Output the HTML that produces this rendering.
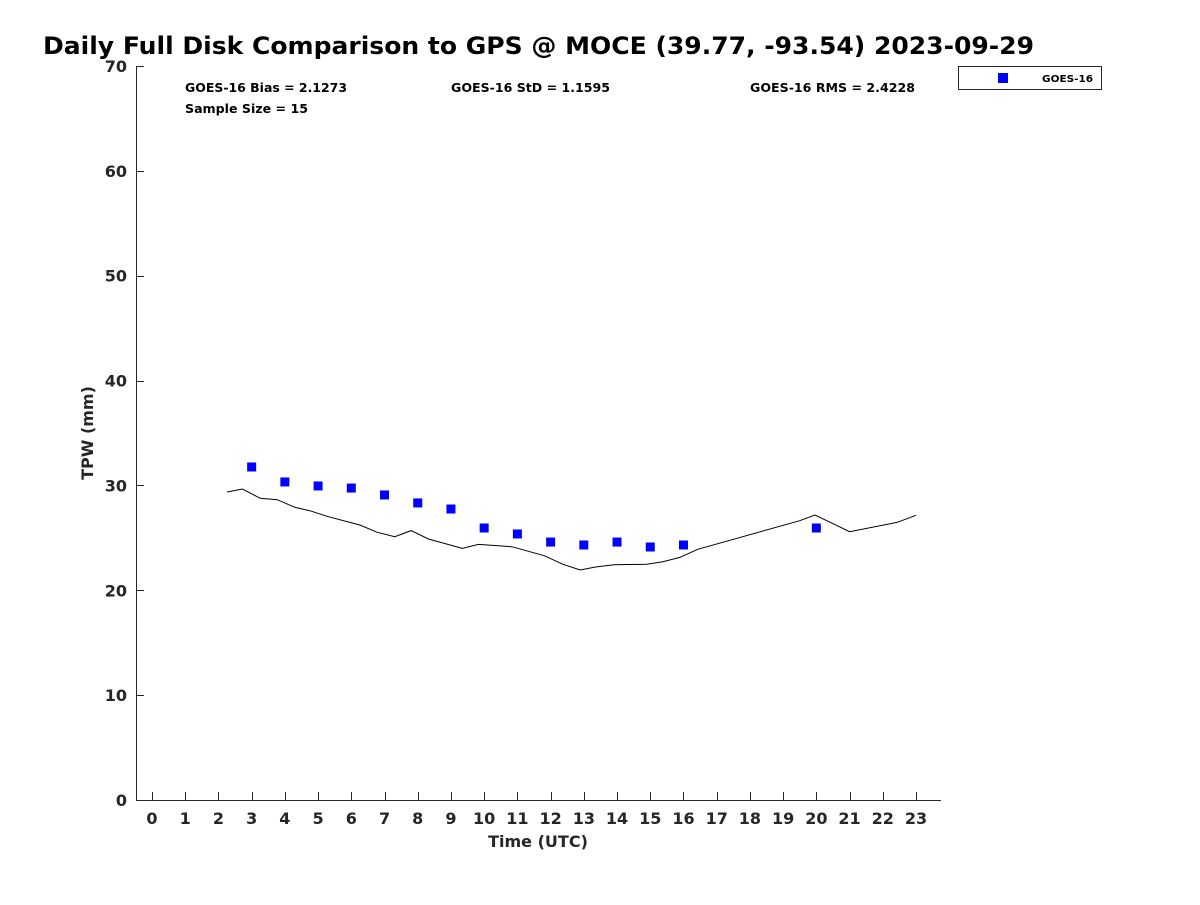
<!DOCTYPE html>
<html><head><meta charset="utf-8"><style>
body{margin:0;background:#fff;}
svg text{font-family:"DejaVu Sans","Liberation Sans",sans-serif;font-weight:bold;fill:#262626;}
</style></head><body>
<svg id="chart" width="1200" height="900">
<text x="43" y="54" font-size="24" textLength="991" lengthAdjust="spacingAndGlyphs" style="fill:#000">Daily Full Disk Comparison to GPS @ MOCE (39.77, -93.54) 2023-09-29</text>
<g id="axes"></g>
<g id="series"></g>
<text x="185" y="92" font-size="12" textLength="162" lengthAdjust="spacingAndGlyphs" style="fill:#000">GOES-16 Bias = 2.1273</text>
<text x="451" y="92" font-size="12" textLength="159" lengthAdjust="spacingAndGlyphs" style="fill:#000">GOES-16 StD = 1.1595</text>
<text x="750" y="92" font-size="12" textLength="165" lengthAdjust="spacingAndGlyphs" style="fill:#000">GOES-16 RMS = 2.4228</text>
<text x="185" y="113" font-size="12" textLength="123" lengthAdjust="spacingAndGlyphs" style="fill:#000">Sample Size = 15</text>
<g>
<rect x="958.5" y="66.5" width="143" height="23" fill="#fff" stroke="#262626" stroke-width="1"/>
<rect x="998" y="73" width="10" height="10" fill="#0000ff"/>
<text x="1042" y="82" font-size="10" textLength="51" lengthAdjust="spacingAndGlyphs" style="fill:#000">GOES-16</text>
</g>
<text transform="translate(93,433) rotate(-90)" font-size="16" text-anchor="middle">TPW (mm)</text>
<text x="538" y="847" font-size="16" text-anchor="middle">Time (UTC)</text>
</svg>
<script>
const gpsHours=[2.26,2.72,3.26,3.77,4.30,4.75,5.31,6.26,6.78,7.31,7.80,8.32,9.34,9.83,10.83,11.81,12.37,12.89,13.35,13.91,14.89,15.38,15.89,16.43,19.50,19.96,20.48,21.00,22.44,23.0];
const gpsValues=[29.37,29.66,28.77,28.64,27.91,27.59,27.02,26.23,25.53,25.11,25.69,24.89,24.00,24.38,24.16,23.30,22.48,21.93,22.22,22.44,22.48,22.73,23.14,23.91,26.64,27.18,26.39,25.59,26.48,27.15];
const goesHours=[3,4,5,6,7,8,9,10,11,12,13,14,15,16,20];
const goesValues=[31.76,30.33,29.95,29.75,29.09,28.33,27.75,25.94,25.37,24.6,24.32,24.6,24.13,24.32,25.94];
const xTicks=[0,1,2,3,4,5,6,7,8,9,10,11,12,13,14,15,16,17,18,19,20,21,22,23];
const yTicks=[0,10,20,30,40,50,60,70];

const NS="http://www.w3.org/2000/svg";
const X0=136,X1=941,Y0=800,Y1=66;
const xs=h=>152+(h)*(916-152)/23;
const ys=v=>Y0-(v/70)*(Y0-Y1);
function mk(tag,attrs,parent){const e=document.createElementNS(NS,tag);for(const k in attrs)e.setAttribute(k,attrs[k]);parent.appendChild(e);return e;}
const ax=document.getElementById('axes');
let l=mk('line',{x1:X0,y1:Y0+0.5,x2:X1,y2:Y0+0.5,stroke:'#262626'},ax);


l=mk('line',{x1:X0+0.5,y1:Y1,x2:X0+0.5,y2:Y0,stroke:'#262626'},ax);


xTicks.forEach(t=>{
  const x=Math.round(xs(t))+0.5;
  const tk=mk('line',{x1:x,y1:Y0,x2:x,y2:Y0-8,stroke:'#262626'},ax);
  
  
  const tx=mk('text',{x:xs(t),y:824,'font-size':16,'text-anchor':'middle'},ax);
  tx.textContent=t;
  
  
});
yTicks.forEach(t=>{
  const y=Math.round(ys(t))+0.5;
  const tk=mk('line',{x1:X0,y1:y,x2:X0+8,y2:y,stroke:'#262626'},ax);
  
  
  const tx=mk('text',{x:127,y:ys(t)+6,'font-size':16,'text-anchor':'end'},ax);
  tx.textContent=t;
  
  
});
const sr=document.getElementById('series');
const pts=gpsHours.map((h,i)=>xs(h).toFixed(1)+','+ys(gpsValues[i]).toFixed(1)).join(' ');
const pl=mk('polyline',{points:pts,fill:'none',stroke:'#000','stroke-width':1},sr);


goesHours.forEach((h,i)=>{
  const r=mk('rect',{x:xs(h)-4.5,y:ys(goesValues[i])-4.5,width:9,height:9,fill:'#0000ff'},sr);
  
  
});
</script>
</body></html>
